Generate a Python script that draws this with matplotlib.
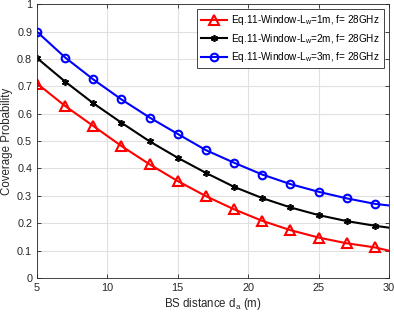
import numpy as np
import matplotlib.pyplot as plt

# distances where curves are sampled (markers every 2 m, curve ends at 30 m)
d = [5, 7, 9, 11, 13, 15, 17, 19, 21, 23, 25, 27, 29, 30]

p_lw1 = [0.710, 0.628, 0.555, 0.482, 0.415, 0.354, 0.299, 0.251, 0.209, 0.175, 0.148, 0.127, 0.112, 0.100]
p_lw2 = [0.803, 0.717, 0.638, 0.567, 0.499, 0.439, 0.384, 0.333, 0.292, 0.258, 0.230, 0.208, 0.191, 0.184]
p_lw3 = [0.899, 0.805, 0.725, 0.652, 0.586, 0.526, 0.467, 0.421, 0.378, 0.343, 0.315, 0.291, 0.271, 0.265]

labels = ["Eq.11-Window-L$_\\mathregular{w}$=1m, f= 28GHz",
          "Eq.11-Window-L$_\\mathregular{w}$=2m, f= 28GHz",
          "Eq.11-Window-L$_\\mathregular{w}$=3m, f= 28GHz"]

plt.rcParams['font.family'] = ['Liberation Sans', 'DejaVu Sans']

fig = plt.figure(figsize=(3.94, 3.16), dpi=100)
ax = fig.add_axes([0.094, 0.120, 0.893, 0.867])

mk_every = list(range(len(d) - 1))
ax.plot(d, p_lw1, color='red', lw=1.5, marker='^', ms=6.5, mfc='none', mew=1.5,
        markevery=mk_every, label=labels[0])
ax.plot(d, p_lw2, color='black', lw=1.5, marker=(6, 2, 0), ms=5, mew=1.2,
        markevery=mk_every, label=labels[1])
ax.plot(d, p_lw3, color='blue', lw=1.5, marker='o', ms=5.5, mfc='none', mew=1.5,
        markevery=mk_every, label=labels[2])

ax.set_xlim(5, 30)
ax.set_ylim(0, 1)
ax.set_xticks(np.arange(5, 31, 5))
ax.set_yticks(np.arange(0, 1.01, 0.1))
ax.set_yticklabels(['0', '0.1', '0.2', '0.3', '0.4', '0.5', '0.6', '0.7', '0.8', '0.9', '1'])
ax.grid(True, color='#e0e0e0', lw=0.8)
ax.set_axisbelow(True)
ax.tick_params(direction='in', top=True, right=True, labelsize=7.8,
               colors='#262626', length=3, width=0.6)
for s in ax.spines.values():
    s.set_color('#262626')
    s.set_linewidth(0.6)

ax.set_xlabel("BS distance d$_\\mathregular{a}$ (m)", fontsize=8.3, color='#262626', labelpad=2)
ax.set_ylabel("Coverage Probability", fontsize=8.3, color='#262626', labelpad=3)

leg = ax.legend(loc='upper right', fontsize=7.2, fancybox=False, framealpha=1,
                edgecolor='#262626', handlelength=2.6, borderpad=0.4,
                labelspacing=0.45, handletextpad=0.4, borderaxespad=0.5)
leg.get_frame().set_linewidth(0.6)

fig.savefig("out.png", dpi=100)
